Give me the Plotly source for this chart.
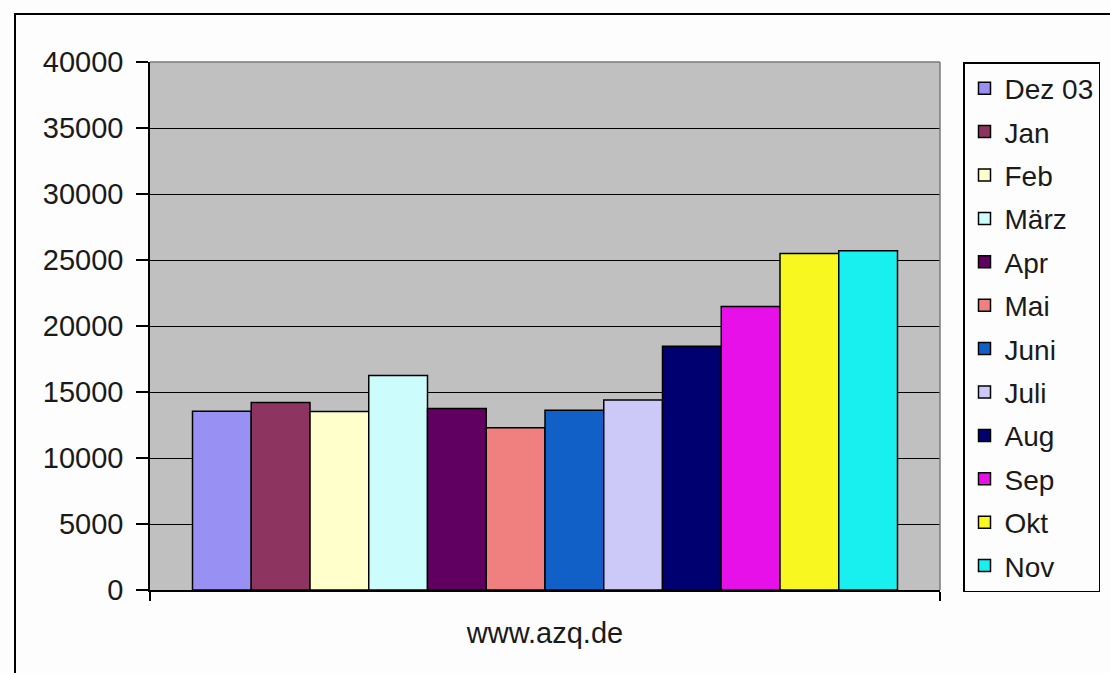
import plotly.graph_objects as go

# Monthly values for the site, one bar per month
category = ["www.azq.de"]
months = ["Dez 03", "Jan", "Feb", "März", "Apr", "Mai",
          "Juni", "Juli", "Aug", "Sep", "Okt", "Nov"]
values = [13550, 14200, 13530, 16250, 13750, 12300,
          13620, 14400, 18460, 21480, 25490, 25700]
colors = ["#9890F2", "#8E3460", "#FFFFCC", "#CCFCFC", "#600060", "#F08080",
          "#1060C8", "#CCC8F8", "#000070", "#E810E8", "#F8F820", "#18F0F0"]
y_ticks = [0, 5000, 10000, 15000, 20000, 25000, 30000, 35000, 40000]

W, H = 1110, 673
L, R, T, B = 150, 170, 62, 83
PW, PH = W - L - R, H - T - B

def px(x):
    return (x - L) / PW

def py(y):
    return (H - B - y) / PH

FONT = "Liberation Sans, Arial, sans-serif"
FS = 29

fig = go.Figure()
for name, val, col in zip(months, values, colors):
    fig.add_trace(go.Bar(
        x=category, y=[val], name=name, legendgroup=name,
        marker=dict(color=col, line=dict(color="#000000", width=1.5)),
    ))

fig.update_layout(
    width=W, height=H,
    margin=dict(l=L, r=R, t=T, b=B, pad=0),
    paper_bgcolor="#FDFDFD",
    plot_bgcolor="#C0C0C0",
    barmode="group",
    bargap=0.1076,
    bargroupgap=0,
    font=dict(family=FONT, size=FS, color="#1A1A1A"),
    xaxis=dict(
        type="category", range=[-0.5, 0.5],
        showgrid=False, showline=True, linecolor="#000000", linewidth=1.5,
        ticks="outside", tickson="boundaries", ticklen=9, tickcolor="#000000",
        tickwidth=1.5, tickfont=dict(size=FS), ticklabelstandoff=16,
        zeroline=False,
    ),
    yaxis=dict(
        range=[0, 40000], tickvals=y_ticks, ticktext=[str(v) for v in y_ticks],
        showgrid=True, gridcolor="#000000", gridwidth=1.3,
        showline=True, linecolor="#000000", linewidth=1.5,
        ticks="outside", ticklen=12, tickcolor="#000000", tickwidth=1.5,
        tickfont=dict(size=FS), ticklabelstandoff=7, zeroline=False,
    ),
    legend=dict(
        xref="container", yref="container",
        x=963 / W, y=1 - 62 / H, xanchor="left", yanchor="top",
        bgcolor="#FDFDFD", bordercolor="#000000", borderwidth=1.5,
        font=dict(size=28), tracegroupgap=4, traceorder="grouped",
        itemwidth=30, maxheight=620,
    ),
    showlegend=True,
    shapes=[
        # plot-area frame on the top and right
        dict(type="line", xref="paper", yref="paper", x0=0, x1=1, y0=1, y1=1,
             line=dict(color="#7A7A7A", width=1.5), layer="above"),
        dict(type="line", xref="paper", yref="paper", x0=1, x1=1, y0=0, y1=1,
             line=dict(color="#7A7A7A", width=1.5), layer="above"),
        # chart-area border
        dict(type="rect", xref="paper", yref="paper",
             x0=px(15), x1=px(1125), y0=py(680), y1=py(14),
             line=dict(color="#000000", width=2), layer="below"),
    ],
)

fig.write_html("out.html")
